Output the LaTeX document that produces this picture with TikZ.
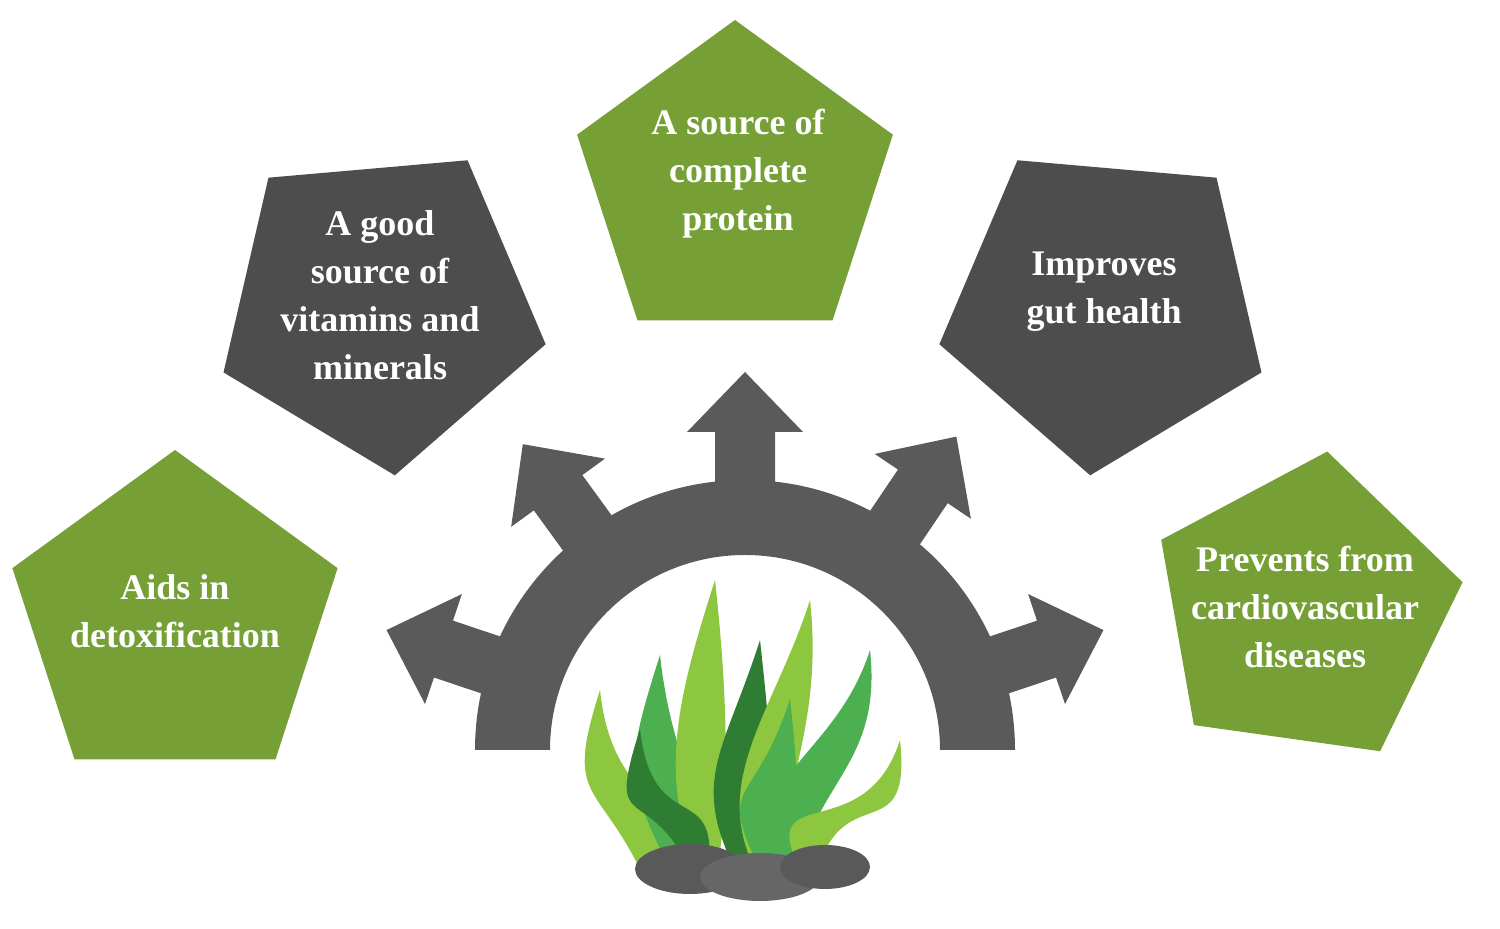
\documentclass[tikz,border=0pt]{standalone}
\usepackage{fontspec}
\setmainfont{Liberation Serif}
\usetikzlibrary{shapes.geometric}
\definecolor{pgreen}{HTML}{76A035}
\definecolor{pdark}{HTML}{4D4D4D}
\definecolor{gearc}{HTML}{5A5A5A}
\definecolor{sw1}{HTML}{8DC63F}
\definecolor{sw2}{HTML}{4CAF50}
\definecolor{sw3}{HTML}{2E7D32}
\tikzset{
  pent/.style={regular polygon, regular polygon sides=5, inner sep=0pt},
  ptext/.style={text=white, font=\bfseries\fontsize{18}{24}\selectfont, align=center},
}
\newcommand{\myleaf}[5]{\fill[#4] (#1,60) .. controls (#1-45,150) and (#2-35,#3-110) .. (#2,#3) .. controls (#2+12,#3-110) and (#1+#5,150) .. (#1+18,60) -- cycle;}
\begin{document}
\begin{tikzpicture}[x=0.5pt,y=0.5pt]
\useasboundingbox (0,0) rectangle (1500,929);
% pentagons
\node[pent, fill=pgreen, minimum size=171pt] (p1) at (175,308) {};
\node[pent, fill=pdark, minimum size=170pt, shape border rotate=185] (p2) at (380,623) {};
\node[pent, fill=pgreen, minimum size=166pt] (p3) at (735,743) {};
\node[pent, fill=pdark, minimum size=170pt, shape border rotate=175] (p4) at (1105,623) {};
\node[pent, fill=pgreen, minimum size=160pt, shape border rotate=-8] (p5) at (1305,319) {};
\node[ptext] at (175,318) {Aids in\\detoxification};
\node[ptext] at (380,634) {A good\\source of\\vitamins and\\minerals};
\node[ptext] at (738,755) {A source of\\complete\\protein};
\node[ptext] at (1104,637) {Improves\\gut health};
\node[ptext] at (1305,322) {Prevents from\\cardiovascular\\diseases};
% gear
\coordinate (gc) at (745,179);
\fill[gearc] (1015,179) arc[start angle=0,end angle=180,radius=270] -- (550,179) arc[start angle=180,end angle=0,radius=195] -- cycle;
\foreach \a in {18.5,56,90,126,161.5}{
  \fill[gearc,shift={(gc)},rotate=\a-90] (-30,255) -- (-30,318) -- (-58,318) -- (0,378) -- (58,318) -- (30,318) -- (30,255) -- cycle;
}
% seaweed
\myleaf{640}{600}{239}{sw1}{30}
\myleaf{670}{660}{274}{sw2}{35}
\myleaf{700}{715}{349}{sw1}{30}
\myleaf{735}{760}{289}{sw3}{40}
\myleaf{755}{810}{329}{sw1}{35}
\myleaf{780}{870}{279}{sw2}{40}
\myleaf{800}{900}{189}{sw1}{45}
\myleaf{690}{640}{200}{sw3}{30}
\myleaf{760}{790}{230}{sw2}{35}
% rocks
\fill[gray!70!black] (690,60) ellipse[x radius=55,y radius=25];
\fill[gray!80!black] (760,52) ellipse[x radius=60,y radius=24];
\fill[gray!70!black] (825,62) ellipse[x radius=45,y radius=22];
\end{tikzpicture}
\end{document}
